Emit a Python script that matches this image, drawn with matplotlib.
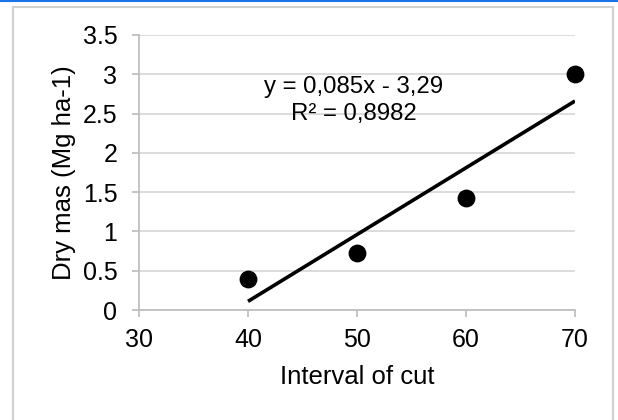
import matplotlib
matplotlib.use("Agg")
import matplotlib.pyplot as plt
from matplotlib.patches import Rectangle
from matplotlib.lines import Line2D
import numpy as np

plt.rcParams['font.family'] = ['Liberation Sans', 'DejaVu Sans']

# data
interval = [40, 50, 60, 70]
dry_mass = [0.40, 0.72, 1.42, 3.00]
x_ticks = [30, 40, 50, 60, 70]
y_ticks = [0, 0.5, 1, 1.5, 2, 2.5, 3, 3.5]
y_tick_labels = ['0', '0.5', '1', '1.5', '2', '2.5', '3', '3.5']
eq_text = 'y = 0,085x - 3,29'
r2_text = 'R² = 0,8982'

W, H = 618, 420
fig = plt.figure(figsize=(W / 100, H / 100), dpi=100)
ax = fig.add_axes([139 / W, 1 - 310 / H, (575 - 139) / W, (310 - 35) / H])

grid_c = '#d9d9d9'
axis_c = '#bfbfbf'

ax.scatter(interval, dry_mass, s=140, color='black', zorder=3, clip_on=False)

# linear trendline
slope, icpt = np.polyfit(interval, dry_mass, 1)
xs = np.array([interval[0], interval[-1]])
ax.plot(xs, slope * xs + icpt, color='black', lw=2.6, solid_capstyle='butt', zorder=2)

ax.set_xlim(30, 70)
ax.set_ylim(0, 3.5)
ax.set_xticks(x_ticks)
ax.set_yticks(y_ticks)
ax.set_yticklabels(y_tick_labels)
ax.yaxis.grid(True, color=grid_c, lw=1.3)
ax.set_axisbelow(True)

for s in ['top', 'right']:
    ax.spines[s].set_visible(False)
for s in ['left', 'bottom']:
    ax.spines[s].set_color(axis_c)
    ax.spines[s].set_linewidth(1.3)
ax.tick_params(axis='both', colors=axis_c, length=5, width=1.3, labelsize=18,
               labelcolor='black')
ax.tick_params(axis='y', pad=10.5)
ax.tick_params(axis='x', pad=8)

ax.set_xlabel('Interval of cut', fontsize=18.5, labelpad=9)
ax.set_ylabel('Dry mas (Mg ha-1)', fontsize=18.5, labelpad=4.5)

ax.text(49.72, 2.766, eq_text, ha='center', va='baseline', fontsize=17.3)
ax.text(49.72, 2.418, r2_text, ha='center', va='baseline', fontsize=17.3)

# chart frame and top accent line
fig.patches.append(Rectangle((13 / W, -0.1), (613 - 13) / W, 1.1 - 7 / H,
                             transform=fig.transFigure, fill=False,
                             edgecolor='#d0d0d0', lw=1.5))
fig.lines.append(Line2D([0, 1], [1 - 1 / H, 1 - 1 / H], transform=fig.transFigure,
                        color='#1a73e8', lw=1.5))

fig.savefig('out.png', dpi=100)
